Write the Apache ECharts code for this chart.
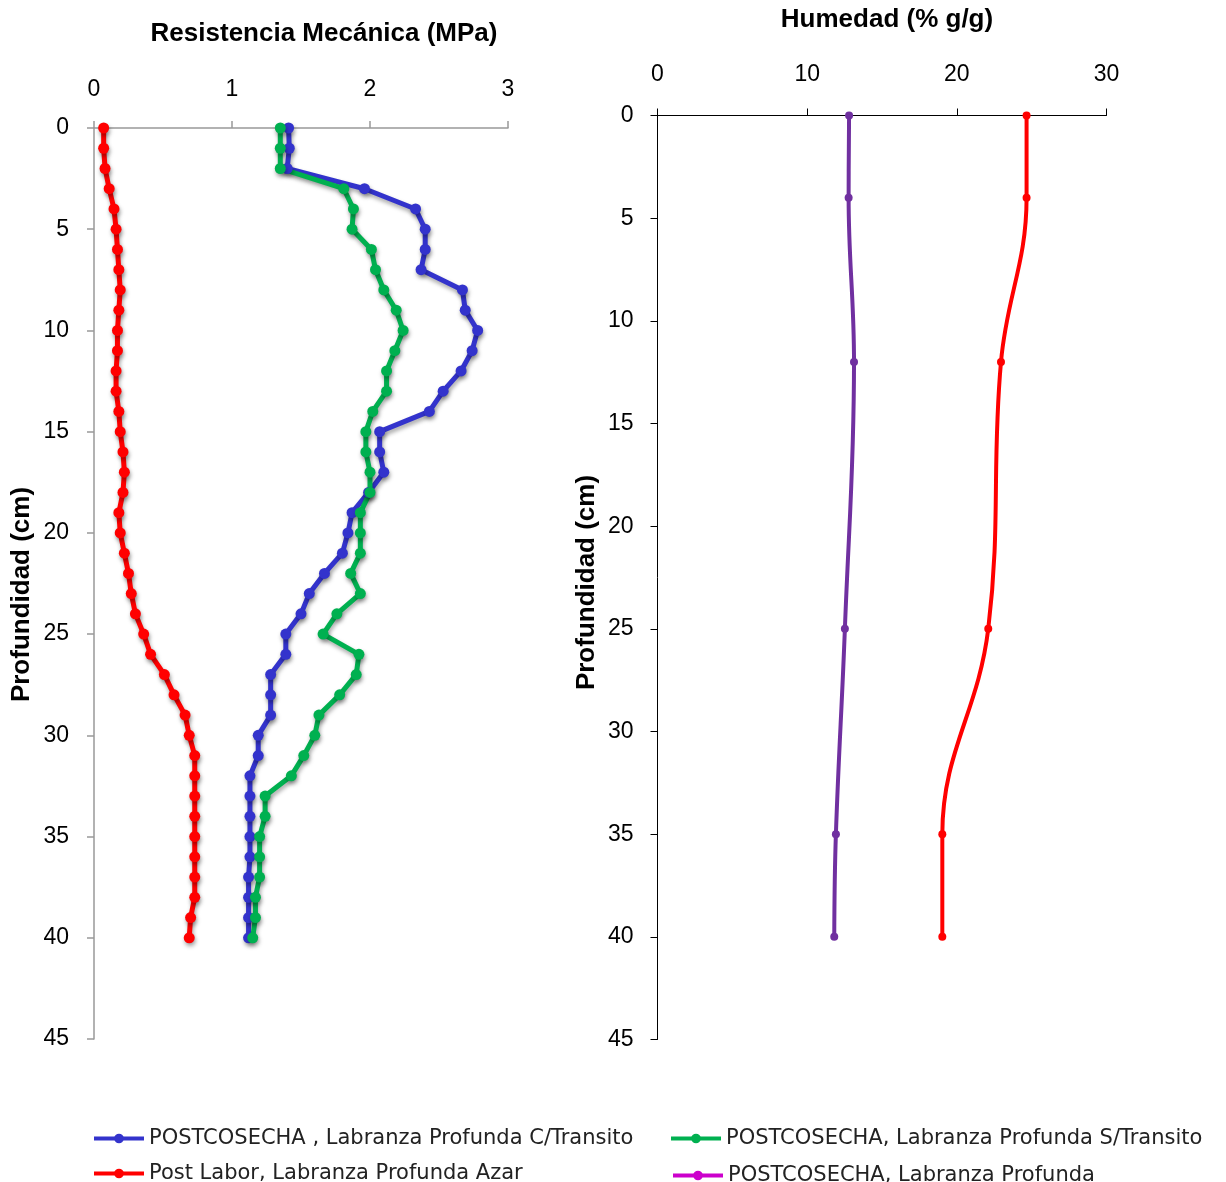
<!DOCTYPE html>
<html>
<head>
<meta charset="utf-8">
<script src="https://cdn.jsdelivr.net/npm/echarts@6/dist/echarts.min.js"></script>
<style>html,body{margin:0;padding:0;background:#fff}#c{width:1226px;height:1182px}</style>
</head>
<body>
<div id="c"></div>
<script>
// Left chart: depth (cm) and mechanical resistance (MPa)
const depthsL = [0,1,2,3,4,5,6,7,8,9,10,11,12,13,14,15,16,17,18,19,20,21,22,23,24,25,26,27,28,29,30,31,32,33,34,35,36,37,38,39,40];
const blueC = [1.41,1.415,1.40,1.96,2.33,2.40,2.40,2.37,2.67,2.69,2.78,2.74,2.66,2.53,2.43,2.07,2.07,2.10,1.99,1.87,1.84,1.80,1.67,1.56,1.50,1.39,1.39,1.28,1.28,1.28,1.19,1.19,1.13,1.13,1.13,1.13,1.13,1.12,1.12,1.12,1.12];
const greenS = [1.35,1.35,1.35,1.81,1.88,1.87,2.01,2.04,2.10,2.19,2.24,2.18,2.12,2.12,2.02,1.97,1.97,2.00,2.00,1.93,1.93,1.93,1.86,1.93,1.76,1.66,1.92,1.90,1.78,1.63,1.60,1.52,1.43,1.24,1.24,1.20,1.20,1.20,1.17,1.17,1.15];
const redA = [0.07,0.07,0.08,0.11,0.145,0.16,0.17,0.18,0.19,0.18,0.17,0.17,0.16,0.16,0.18,0.19,0.21,0.22,0.21,0.18,0.19,0.22,0.25,0.27,0.30,0.36,0.41,0.51,0.58,0.66,0.69,0.73,0.73,0.73,0.73,0.73,0.73,0.73,0.73,0.70,0.69];
// Right chart: moisture (% g/g)
const depthsR = [0,4,12,25,35,40];
const humPurple = [12.8,12.77,13.13,12.52,11.92,11.81];
const humRed = [24.66,24.66,22.95,22.1,19.03,19.03];
const xTicksL = [0,1,2,3];
const xTicksR = [0,10,20,30];

const names = [
  'POSTCOSECHA , Labranza Profunda C/Transito',
  'POSTCOSECHA, Labranza Profunda S/Transito',
  'Post Labor, Labranza Profunda Azar',
  'POSTCOSECHA, Labranza Profunda'
];

const pair = (xs, ds) => ds.map((d, i) => [xs[i], d]);
const FONT = 'Liberation Sans';
const shadow = {shadowBlur: 4, shadowColor: 'rgba(0,0,0,0.35)', shadowOffsetX: 1, shadowOffsetY: 3};

const chart = echarts.init(document.getElementById('c'), null, {renderer: 'canvas'});

function leftSeries(name, vals, color) {
  return {
    name, type: 'line', xAxisIndex: 0, yAxisIndex: 0,
    data: pair(vals, depthsL), symbol: 'circle', symbolSize: 11,
    itemStyle: Object.assign({color}, shadow),
    lineStyle: Object.assign({color, width: 5}, shadow),
    z: 3, animation: false
  };
}
function rightSeries(name, vals, color) {
  return {
    name, type: 'line', xAxisIndex: 1, yAxisIndex: 1, smooth: 0.4,
    data: pair(vals, depthsR), symbol: 'circle', symbolSize: 8,
    itemStyle: {color}, lineStyle: {color, width: 4},
    z: 3, animation: false
  };
}
const legendBase = {
  orient: 'horizontal', itemWidth: 50, itemHeight: 12, itemGap: 10,
  lineStyle: {width: 4},
  textStyle: {fontFamily: 'DejaVu Sans', fontSize: 21, color: '#222'}
};
const tickFont = {fontFamily: FONT, fontSize: 23, color: '#000'};

chart.setOption({
  backgroundColor: '#fff',
  animation: false,
  title: [
    {text: 'Resistencia Mecánica (MPa)', left: 319, top: 29, textAlign: 'center', textVerticalAlign: 'middle',
     textStyle: {fontFamily: FONT, fontSize: 26, fontWeight: 'bold', color: '#000'}},
    {text: 'Humedad (% g/g)', left: 882, top: 15, textAlign: 'center', textVerticalAlign: 'middle',
     textStyle: {fontFamily: FONT, fontSize: 26, fontWeight: 'bold', color: '#000'}}
  ],
  legend: [
    Object.assign({}, legendBase, {left: 87, top: 1123, data: [{name: names[0]}]}),
    Object.assign({}, legendBase, {left: 664, top: 1123, data: [{name: names[1]}]}),
    Object.assign({}, legendBase, {left: 87, top: 1158, data: [{name: names[2]}]}),
    Object.assign({}, legendBase, {left: 666, top: 1160, data: [{name: names[3], itemStyle: {color: '#cc00cc'}, lineStyle: {color: '#cc00cc', width: 4}}]})
  ],
  grid: [
    {left: 94, top: 128, width: 414, height: 911, containLabel: false},
    {left: 657.5, top: 115.5, width: 449, height: 924, containLabel: false}
  ],
  xAxis: [
    {gridIndex: 0, type: 'value', position: 'top', min: xTicksL[0], max: xTicksL[xTicksL.length-1], interval: 1,
     axisLine: {show: true, lineStyle: {color: '#999', width: 1.5}},
     axisTick: {show: true, length: 7, lineStyle: {color: '#999', width: 1.5}},
     axisLabel: Object.assign({margin: 27}, tickFont), splitLine: {show: false}},
    {gridIndex: 1, type: 'value', position: 'top', min: xTicksR[0], max: xTicksR[xTicksR.length-1], interval: 10,
     axisLine: {show: true, lineStyle: {color: '#000', width: 1}},
     axisTick: {show: true, length: 7, lineStyle: {color: '#000', width: 1}},
     axisLabel: Object.assign({margin: 29}, tickFont), splitLine: {show: false}}
  ],
  yAxis: [
    {gridIndex: 0, type: 'value', inverse: true, min: 0, max: 45, interval: 5,
     name: 'Profundidad (cm)', nameLocation: 'middle', nameRotate: 90, nameGap: 59,
     nameTextStyle: {fontFamily: FONT, fontSize: 26, fontWeight: 'bold', color: '#000', padding: [0, 22, 0, 0]},
     axisLine: {show: true, lineStyle: {color: '#999', width: 1.5}},
     axisTick: {show: true, length: 7, lineStyle: {color: '#999', width: 1.5}},
     axisLabel: Object.assign({margin: 25}, tickFont), splitLine: {show: false}},
    {gridIndex: 1, type: 'value', inverse: true, min: 0, max: 45, interval: 5,
     name: 'Profundidad (cm)', nameLocation: 'middle', nameRotate: 90, nameGap: 58,
     nameTextStyle: {fontFamily: FONT, fontSize: 26, fontWeight: 'bold', color: '#000', padding: [0, 10, 0, 0]},
     axisLine: {show: true, lineStyle: {color: '#000', width: 1}},
     axisTick: {show: true, length: 7, lineStyle: {color: '#000', width: 1}},
     axisLabel: Object.assign({margin: 24}, tickFont), splitLine: {show: false}}
  ],
  series: [
    leftSeries(names[0], blueC, '#3333cc'),
    leftSeries(names[1], greenS, '#00b050'),
    leftSeries(names[2], redA, '#ff0000'),
    rightSeries(names[3], humPurple, '#7030a0'),
    rightSeries(names[2], humRed, '#ff0000')
  ]
});
</script>
</body>
</html>
